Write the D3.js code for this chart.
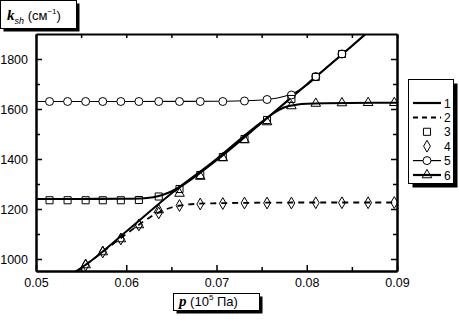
<!DOCTYPE html>
<html>
<head>
<meta charset="utf-8">
<script src="https://cdn.jsdelivr.net/npm/d3@7"></script>
<style>
  body { margin: 0; background: #fff; }
  svg { display: block; font-family: 'Liberation Sans', Arial, sans-serif; }
</style>
</head>
<body>
<div id="chart"></div>
<script>
// measured points (p in 10^5 Pa, k in cm^-1)
const pGrid = [0.0515, 0.0535, 0.0555, 0.0574, 0.0594, 0.0614, 0.0636, 0.0659,
  0.0682, 0.0707, 0.0731, 0.0756, 0.0783, 0.0810, 0.0839, 0.0868, 0.0897];

const squaresK = [1235, 1235, 1235, 1235, 1235, 1236, 1250, 1280, 1336, 1408,
  1480, 1556, 1640, 1728, 1820];
const diamondsK = [null, null, 976, 1028, 1080, 1136, 1184, 1214, 1220, 1222,
  1224, 1224, 1224, 1225, 1225, 1225, 1226];
const circlesK = [1630, 1630, 1630, 1630, 1630, 1630, 1630, 1630, 1630, 1630,
  1632, 1638, 1656, 1730, 1820];
const trianglesK = [null, null, 976, 1028, 1080, 1136, 1196, 1262, 1330, 1404,
  1476, 1548, 1612, 1622, 1624, 1625, 1625];

// calculated curves
const curve1P = [0.05, 0.055, 0.06, 0.062, 0.063, 0.064, 0.065, 0.066, 0.068,
  0.07, 0.075, 0.08, 0.085, 0.087];
const curve1K = [1240, 1240, 1241, 1243, 1247, 1256, 1270, 1290, 1340, 1395,
  1545, 1698, 1852, 1915];
const curve2P = [0.0545, 0.056, 0.058, 0.06, 0.062, 0.063, 0.064, 0.065, 0.066,
  0.068, 0.07, 0.08, 0.09];
const curve2K = [950, 990, 1045, 1100, 1152, 1175, 1193, 1206, 1214, 1221,
  1223, 1226, 1226];
const curve5P = [0.05, 0.06, 0.07, 0.074, 0.076, 0.077, 0.078, 0.079, 0.08,
  0.082, 0.085, 0.087];
const curve5K = [1630, 1630, 1631, 1634, 1640, 1646, 1656, 1672, 1695, 1760,
  1852, 1915];
const curve6P = [0.054, 0.056, 0.06, 0.065, 0.07, 0.074, 0.076, 0.077, 0.078,
  0.079, 0.08, 0.082, 0.09];
const curve6K = [940, 990, 1110, 1262, 1400, 1520, 1575, 1598, 1612, 1618,
  1621, 1623, 1625];

const xMajor = [0.05, 0.06, 0.07, 0.08, 0.09];
const xMinor = [0.055, 0.065, 0.075, 0.085];
const yMajor = [1000, 1200, 1400, 1600, 1800];
const yMinor = [1100, 1300, 1500, 1700];
const legendLabels = ['1', '2', '3', '4', '5', '6'];

const width = 459;
const height = 323;
const plot = {left: 36, right: 397, top: 34, bottom: 271};

const xScale = d3.scaleLinear().domain([0.05, 0.09]).range([plot.left, plot.right]);
const yScale = d3.scaleLinear().domain([952, 1900]).range([plot.bottom, plot.top]);

const svg = d3.select('#chart')
    .append('svg')
    .attr('width', width)
    .attr('height', height);

svg.append('defs')
    .append('clipPath')
    .attr('id', 'clip')
    .append('rect')
    .attr('x', plot.left)
    .attr('y', plot.top)
    .attr('width', plot.right - plot.left)
    .attr('height', plot.bottom - plot.top);

const pairs = (ps, ks) => ps.map((p, i) => ({p: p, k: ks[i]}))
    .filter((d) => d.k !== null && d.k !== undefined);

const line = d3.line()
    .x((d) => xScale(d.p))
    .y((d) => yScale(d.k))
    .curve(d3.curveMonotoneX);

const lines = svg.append('g').attr('clip-path', 'url(#clip)');

lines.append('path')
    .datum(pairs(curve5P, curve5K))
    .attr('fill', 'none')
    .attr('stroke', '#000')
    .attr('stroke-width', 1.2)
    .attr('d', line);
lines.append('path')
    .datum(pairs(curve6P, curve6K))
    .attr('fill', 'none')
    .attr('stroke', '#000')
    .attr('stroke-width', 2)
    .attr('d', line);
lines.append('path')
    .datum(pairs(curve2P, curve2K))
    .attr('fill', 'none')
    .attr('stroke', '#000')
    .attr('stroke-width', 1.8)
    .attr('stroke-dasharray', '6 5')
    .attr('d', line);
lines.append('path')
    .datum(pairs(curve1P, curve1K))
    .attr('fill', 'none')
    .attr('stroke', '#000')
    .attr('stroke-width', 2.2)
    .attr('d', line);

// markers
const sym = {
  square: d3.symbol().type(d3.symbolSquare).size(50),
  diamond: d3.symbol().type(d3.symbolDiamond).size(40),
  circle: d3.symbol().type(d3.symbolCircle).size(50),
  triangle: d3.symbol().type(d3.symbolTriangle).size(40),
};

const drawMarkers = (ks, shape, fill) => {
  lines.append('g')
      .selectAll('path')
      .data(pairs(pGrid, ks))
      .enter()
      .append('path')
      .attr('transform', (d) => `translate(${xScale(d.p)},${yScale(d.k)})`)
      .attr('d', sym[shape])
      .attr('fill', fill)
      .attr('stroke', '#000')
      .attr('stroke-width', 1);
};
drawMarkers(circlesK, 'circle', '#fff');
drawMarkers(squaresK, 'square', 'none');
drawMarkers(diamondsK, 'diamond', 'none');
drawMarkers(trianglesK, 'triangle', 'none');

// axes, ticks pointing inward
const styleAxis = (g) => {
  g.select('.domain').attr('stroke-width', 2);
  g.selectAll('.tick line').attr('stroke-width', 1.5);
  g.selectAll('.tick text').attr('font-size', 12.5).attr('fill', '#000');
  g.attr('font-family', null);
};

svg.append('g')
    .attr('transform', `translate(0,${plot.bottom})`)
    .call(d3.axisBottom(xScale).tickValues(xMajor).tickSize(-6)
        .tickSizeOuter(0).tickPadding(7).tickFormat(d3.format('.2f')))
    .call(styleAxis);
svg.append('g')
    .attr('transform', `translate(0,${plot.bottom})`)
    .call(d3.axisBottom(xScale).tickValues(xMinor).tickSize(-4)
        .tickSizeOuter(0).tickFormat(''))
    .call(styleAxis);
svg.append('g')
    .attr('transform', `translate(0,${plot.top})`)
    .call(d3.axisTop(xScale).tickValues(xMajor.concat(xMinor)).tickSize(-4)
        .tickSizeOuter(0).tickFormat(''))
    .call(styleAxis);

svg.append('g')
    .attr('transform', `translate(${plot.left},0)`)
    .call(d3.axisLeft(yScale).tickValues(yMajor).tickSize(-6)
        .tickSizeOuter(0).tickPadding(8).tickFormat(d3.format('d')))
    .call(styleAxis);
svg.append('g')
    .attr('transform', `translate(${plot.left},0)`)
    .call(d3.axisLeft(yScale).tickValues(yMinor).tickSize(-4)
        .tickSizeOuter(0).tickFormat(''))
    .call(styleAxis);
svg.append('g')
    .attr('transform', `translate(${plot.right},0)`)
    .call(d3.axisRight(yScale).tickValues(yMajor).tickSize(-6)
        .tickSizeOuter(0).tickFormat(''))
    .call(styleAxis);
svg.append('g')
    .attr('transform', `translate(${plot.right},0)`)
    .call(d3.axisRight(yScale).tickValues(yMinor).tickSize(-4)
        .tickSizeOuter(0).tickFormat(''))
    .call(styleAxis);

// boxed axis titles with drop shadow
const shadowBox = (x, y, w, h, off) => {
  svg.append('rect')
      .attr('x', x + off).attr('y', y + off)
      .attr('width', w).attr('height', h)
      .attr('fill', '#000');
  svg.append('rect')
      .attr('x', x).attr('y', y)
      .attr('width', w).attr('height', h)
      .attr('fill', '#fff')
      .attr('stroke', '#000')
      .attr('stroke-width', 1);
};

shadowBox(0.5, 0.5, 76, 28, 3);
const yTitle = svg.append('text')
    .attr('x', 7)
    .attr('y', 20)
    .attr('font-size', 13)
    .attr('fill', '#000');
yTitle.append('tspan').text('k')
    .attr('font-weight', 'bold').attr('font-style', 'italic')
    .attr('font-family', 'Liberation Serif, serif').attr('font-size', 15);
yTitle.append('tspan').text('sh')
    .attr('font-style', 'italic').attr('font-size', 9).attr('dy', 4);
yTitle.append('tspan').text(' (см').attr('dy', -4);
yTitle.append('tspan').text('−1').attr('font-size', 8).attr('dy', -6);
yTitle.append('tspan').text(')').attr('dy', 6);

shadowBox(173.5, 293.5, 86, 17, 3);
const xTitle = svg.append('text')
    .attr('x', 179)
    .attr('y', 306)
    .attr('font-size', 13)
    .attr('fill', '#000');
xTitle.append('tspan').text('p')
    .attr('font-weight', 'bold').attr('font-style', 'italic')
    .attr('font-family', 'Liberation Serif, serif').attr('font-size', 15);
xTitle.append('tspan').text(' (10');
xTitle.append('tspan').text('5').attr('font-size', 8).attr('dy', -6);
xTitle.append('tspan').text(' Па)').attr('dy', 6);

// legend
shadowBox(408.5, 79.5, 45, 104, 4);
const legendRowY = d3.scalePoint().domain(legendLabels).range([103, 175]);
const legendItems = svg.append('g')
    .selectAll('g')
    .data(legendLabels)
    .enter()
    .append('g')
    .attr('transform', (d) => `translate(0,${legendRowY(d)})`);

legendItems.append('text')
    .attr('x', 444)
    .attr('y', 4.5)
    .attr('font-size', 12)
    .text((d) => d);

const sampleLine = (sel, w, dash) => sel.append('line')
    .attr('x1', 413).attr('x2', 441)
    .attr('stroke', '#000')
    .attr('stroke-width', w)
    .attr('stroke-dasharray', dash);
sampleLine(legendItems.filter((d) => d === '1'), 2.2, null);
sampleLine(legendItems.filter((d) => d === '2'), 2, '5 4');
sampleLine(legendItems.filter((d) => d === '5'), 1.2, null);
sampleLine(legendItems.filter((d) => d === '6'), 2.2, null);

const legendShapes = {'3': 'square', '4': 'diamond', '5': 'circle', '6': 'triangle'};
legendItems.filter((d) => legendShapes[d])
    .append('path')
    .attr('transform', 'translate(427,0)')
    .attr('d', (d) => sym[legendShapes[d]]())
    .attr('fill', (d) => d === '5' ? '#fff' : 'none')
    .attr('stroke', '#000')
    .attr('stroke-width', 1);
</script>
</body>
</html>
